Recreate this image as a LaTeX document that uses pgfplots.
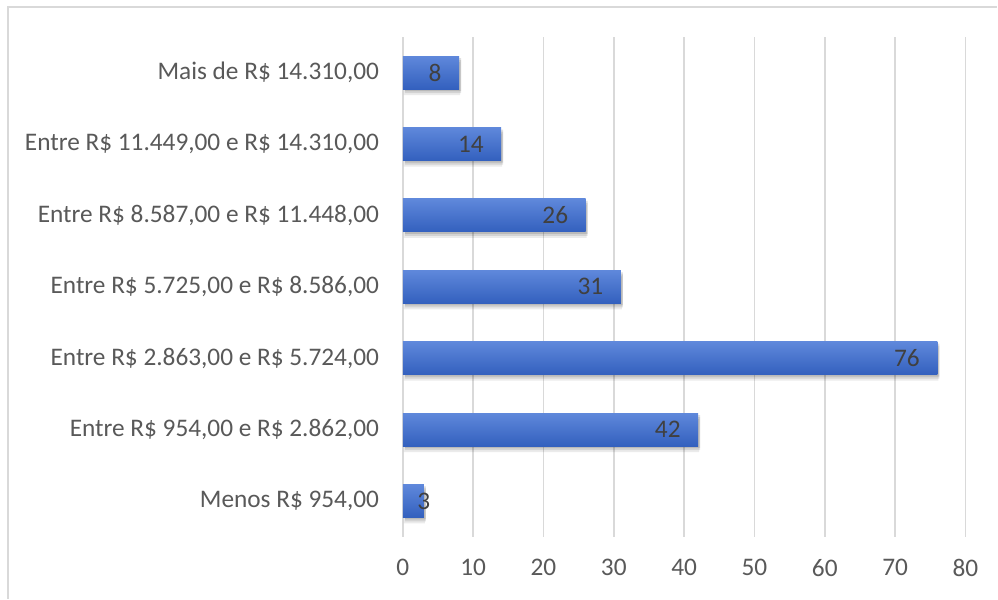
\documentclass[border=0pt]{standalone}
\usepackage{fontspec}
\setmainfont{Carlito}
\usepackage{pgfplots}
\pgfplotsset{compat=1.18}
\definecolor{txt}{HTML}{595959}
\definecolor{lbl}{HTML}{404040}
\definecolor{grd}{HTML}{D9D9D9}
\definecolor{barlight}{HTML}{5F88DB}
\definecolor{bardark}{HTML}{3360BE}
\pgfplotstableread{
v y
8 6
14 5
26 4
31 3
76 2
42 1
3 0
}\bardata
\begin{document}
\begin{tikzpicture}[x=1pt,y=1pt]
\fill[white] (0,0) rectangle (998,599);
\draw[grd, line width=1.2pt] (8,0) -- (8,592) -- (998,592);
\begin{axis}[at={(403pt,62pt)}, anchor=south west, scale only axis, width=563pt, height=500pt,
  xbar, bar width=33pt, bar shift=0pt,
  xmin=0, xmax=80, ymin=-0.5, ymax=6.5,
  xtick={0,10,...,80}, ytick={0,...,6},
  yticklabels={{Menos R\$ 954,00},{Entre R\$ 954,00 e R\$ 2.862,00},{Entre R\$ 2.863,00 e R\$ 5.724,00},{Entre R\$ 5.725,00 e R\$ 8.586,00},{Entre R\$ 8.587,00 e R\$ 11.448,00},{Entre R\$ 11.449,00 e R\$ 14.310,00},{Mais de R\$ 14.310,00}},
  axis line style={draw=none}, major tick style={draw=none},
  xmajorgrids, grid style={grd, line width=1.5pt},
  font=\fontsize{25.3}{30}\selectfont, ticklabel style={txt},
  /pgf/number format/assume math mode=true,
  xticklabel style={yshift=-19pt}, yticklabel style={xshift=-16pt},
  clip=false,
  shad/.style={draw=none, fill=black, fill opacity=#1, forget plot},
  sb/.style={draw=none, shading=axis, top color=barlight, bottom color=bardark, nodes near coords},
  every node near coord/.append style={lbl, font=\fontsize{25.3}{30}\selectfont, anchor=east, xshift=-14pt},
]
\addplot[shad=0.08, xshift=1pt, yshift=-6pt, bar width=33pt] table[x=v,y=y] {\bardata};
\addplot[shad=0.10, xshift=2pt, yshift=-4pt, bar width=33pt] table[x=v,y=y] {\bardata};
\addplot[shad=0.12, xshift=2pt, yshift=-2pt, bar width=33pt] table[x=v,y=y] {\bardata};
\addplot[sb] coordinates {(8,6)};
\addplot[sb] coordinates {(14,5)};
\addplot[sb] coordinates {(26,4)};
\addplot[sb] coordinates {(31,3)};
\addplot[sb] coordinates {(76,2)};
\addplot[sb] coordinates {(42,1)};
\addplot[sb, every node near coord/.append style={anchor=center, xshift=14pt}] coordinates {(3,0)};
\end{axis}
\end{tikzpicture}
\end{document}
